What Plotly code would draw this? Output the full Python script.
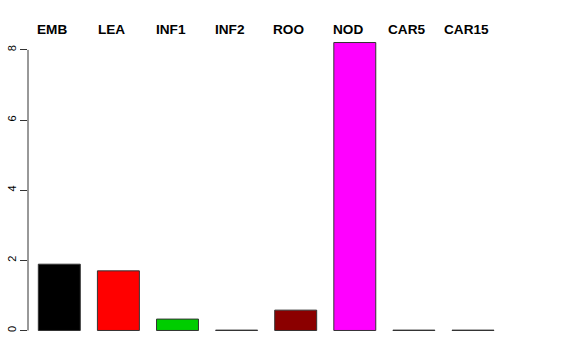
import plotly.graph_objects as go

categories = ["EMB", "LEA", "INF1", "INF2", "ROO", "NOD", "CAR5", "CAR15"]
values = [1.89, 1.70, 0.325, 0.01, 0.58, 8.21, 0.01, 0.01]
colors = ["#000000", "#FF0000", "#00CD00", "#0000FF", "#8B0000", "#FF00FF", "#00FFFF", "#FFFF00"]
yticks = [0, 2, 4, 6, 8]

pos = list(range(1, len(categories) + 1))

W, H = 576, 360
ml, mr, mt, mb = 28, 28, 31, 18
px_per_unit = 59.1
x_left = 1 - (59.3 - ml) / px_per_unit
x_right = 1 + (W - mr - 59.3) / px_per_unit
ymax = max(values)
ylo, yhi = -0.04 * ymax, ymax * 1.04

fig = go.Figure()
fig.add_trace(go.Bar(
    x=pos, y=values, width=0.71,
    marker=dict(color=colors, line=dict(color="#333333", width=1)),
    showlegend=False,
))

for p, c in zip(pos, categories):
    fig.add_annotation(
        x=p, y=1, yref="paper", yshift=1.5, xshift=-7,
        text="<b>" + c + "</b>", showarrow=False,
        font=dict(family="Liberation Sans", size=13.6, color="black"),
        yanchor="middle",
    )

fig.add_shape(type="line", xref="paper", yref="y", x0=0, x1=0, y0=0, y1=max(yticks),
              line=dict(color="#333333", width=1))

fig.update_layout(
    width=W, height=H,
    margin=dict(l=ml, r=mr, t=mt, b=mb, autoexpand=False),
    paper_bgcolor="white", plot_bgcolor="white",
    font=dict(family="Liberation Sans", size=11, color="black"),
    xaxis=dict(range=[x_left, x_right], showticklabels=False, showgrid=False,
               zeroline=False, showline=False, ticks="", automargin=False),
    yaxis=dict(range=[ylo, yhi], tickvals=yticks, ticktext=[str(v) for v in yticks],
               tickangle=-90, ticks="outside", ticklen=7, tickcolor="#333333",
               showgrid=False, zeroline=False, showline=False, automargin=False,
               tickfont=dict(family="Liberation Sans", size=11, color="black")),
)

fig.write_html("out.html")
